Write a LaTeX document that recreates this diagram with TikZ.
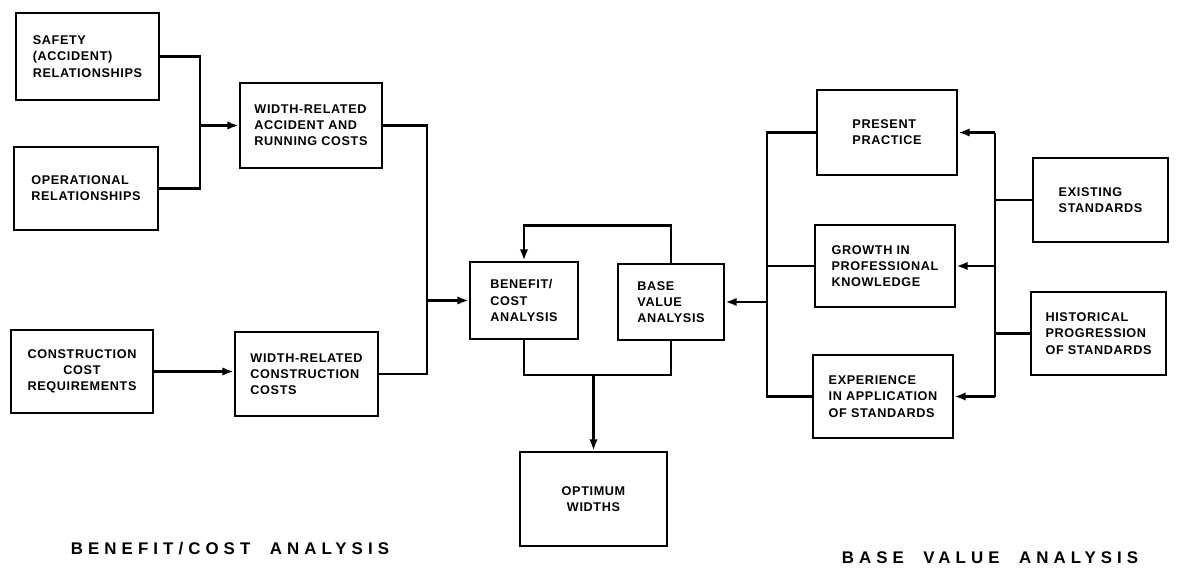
\documentclass[tikz,border=0pt]{standalone}
\usepackage{fontspec}
\setmainfont{Liberation Sans}
\usetikzlibrary{arrows.meta}
\newcommand{\boxfont}{\fontsize{9}{11.5}\selectfont\bfseries\addfontfeature{LetterSpace=5}}
\newcommand{\labfont}{\fontsize{12}{14}\selectfont\bfseries\addfontfeature{LetterSpace=30}}
\begin{document}
\begin{tikzpicture}[x=0.025cm, y=-0.025cm,
    box/.style={draw, line width=2pt, align=left, inner sep=2pt, font=\boxfont},
    sz/.style 2 args={minimum width=#1*0.025cm, minimum height=#2*0.025cm},
    con/.style={line width=1.8pt},
    arr/.style={con, -{Latex[length=8pt,width=6pt]}},
    lab/.style={font=\labfont}]
    \useasboundingbox (0,0) rectangle (1177,572);
    % benefit/cost side
    \node[box, sz={143}{87}] (safety) at (87.5,56.5) {SAFETY\\(ACCIDENT)\\RELATIONSHIPS};
    \node[box, sz={144}{83}] (oper) at (86,188.5) {OPERATIONAL\\RELATIONSHIPS};
    \node[box, sz={142}{85}] (wacc) at (311,125.5) {WIDTH-RELATED\\ACCIDENT AND\\RUNNING COSTS};
    \node[box, sz={142}{83}, align=center] (constr) at (82,371.5) {CONSTRUCTION\\COST\\REQUIREMENTS};
    \node[box, sz={143}{84}] (wcon) at (306.5,374) {WIDTH-RELATED\\CONSTRUCTION\\COSTS};
    % middle
    \node[box, sz={108}{77}] (bc) at (524,300.5) {BENEFIT/\\COST\\ANALYSIS};
    \node[box, sz={106}{76}] (bv) at (671,302) {BASE\\VALUE\\ANALYSIS};
    \node[box, sz={147}{94}, align=center] (opt) at (593.5,499) {OPTIMUM\\WIDTHS};
    % base value side
    \node[box, sz={140}{85}] (pres) at (887,132.5) {PRESENT\\PRACTICE};
    \node[box, sz={140}{82}] (grow) at (885,266) {GROWTH IN\\PROFESSIONAL\\KNOWLEDGE};
    \node[box, sz={140}{83}] (exper) at (883,396.5) {EXPERIENCE\\IN APPLICATION\\OF STANDARDS};
    \node[box, sz={135}{84}] (exist) at (1100.5,200) {EXISTING\\STANDARDS};
    \node[box, sz={135}{83}] (hist) at (1098.5,333.5) {HISTORICAL\\PROGRESSION\\OF STANDARDS};
    % junctions
    \coordinate (jl) at (200,125.5);
    \coordinate (jm) at (427,300.5);
    \coordinate (jb) at (593.5,375);
    \coordinate (jr) at (767,302);
    \coordinate (rbt) at (995,132.5);
    \coordinate (rbb) at (995,396.5);
    % connectors
    \draw[con] (safety.east) -| (jl) |- (oper.east);
    \draw[arr] (jl) -- (wacc.west);
    \draw[con] (wacc.east) -| (jm) |- (wcon.east);
    \draw[arr] (jm) -- (bc.west);
    \draw[arr] (constr.east) -- (constr.east -| wcon.west);
    \draw[arr] (bv.north) -- ++(0,-37) -| (bc.north);
    \draw[con] (bc.south) |- (jb) -| (bv.south);
    \draw[arr] (jb) -- (opt.north);
    \draw[con] (pres.west) -| (jr) |- (exper.west);
    \draw[con] (grow.west) -- (grow.west -| jr);
    \draw[arr] (jr) -- (bv.east);
    \draw[con] (rbt) -- (rbb);
    \draw[arr] (rbt) -- (pres.east);
    \draw[arr] (grow.east -| rbt) -- (grow.east);
    \draw[arr] (rbb) -- (exper.east);
    \draw[con] (exist.west) -- (exist.west -| rbt);
    \draw[con] (hist.west) -- (hist.west -| rbt);
    % titles
    \node[lab] (bclab) at (230,549) {BENEFIT/COST\ \ ANALYSIS};
    \node[lab] (bvlab) at (990,558) {BASE\ \ VALUE\ \ ANALYSIS};
\end{tikzpicture}
\end{document}
